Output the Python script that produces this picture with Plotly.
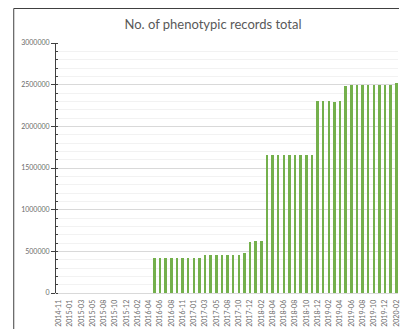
import plotly.graph_objects as go

# Monthly snapshots on the category axis (every other one carries a label)
months = [
    "2014-11", "2014-12", "2015-01", "2015-02", "2015-03", "2015-04", "2015-05", "2015-07",
    "2015-08", "2015-09", "2015-10", "2015-11", "2015-12", "2016-01", "2016-02", "2016-03",
    "2016-04", "2016-05", "2016-06", "2016-07", "2016-08", "2016-10", "2016-11", "2016-12",
    "2017-01", "2017-02", "2017-03", "2017-04", "2017-05", "2017-07", "2017-08", "2017-09",
    "2017-10", "2017-11", "2017-12", "2018-01", "2018-02", "2018-03", "2018-04", "2018-05",
    "2018-06", "2018-07", "2018-08", "2018-09", "2018-10", "2018-11", "2018-12", "2019-01",
    "2019-02", "2019-03", "2019-04", "2019-05", "2019-06", "2019-07", "2019-08", "2019-09",
    "2019-10", "2019-11", "2019-12", "2020-01", "2020-02",
]

# Total phenotypic records per snapshot
records = (
    [0] * 17
    + [424000] + [418000] * 8
    + [462000] * 7
    + [478000]
    + [612000, 625000, 625000]
    + [1651000] * 9
    + [2299000, 2299000, 2299000, 2287000, 2304000]
    + [2479000] + [2491000] * 8 + [2515000]
)

tick_months = months[::2]

TEXT = "#6b6b6b"
FONT = "Lato"

# plot area in pixels: left 56, top 43, width 344, height 250
L, T, W, H = 56, 43, 344, 250


def px_x(x):
    return (x - L) / W


def px_y(y):
    return 1 - (y - T) / H


fig = go.Figure(
    go.Bar(
        x=list(range(len(months))),
        y=records,
        marker=dict(color="#74B04C", line=dict(width=0)),
        width=0.45,
        hovertext=months,
    )
)

fig.update_layout(
    width=400,
    height=329,
    margin=dict(l=L, r=400 - L - W, t=T, b=329 - T - H),
    paper_bgcolor="white",
    plot_bgcolor="white",
    showlegend=False,
    title=dict(
        text="No. of phenotypic records total",
        x=213 / 400,
        xanchor="center",
        y=1 - 24 / 329,
        yanchor="middle",
        font=dict(family=FONT, size=13, color="#595959"),
    ),
    bargap=0,
    shapes=[
        # chart frame: left and top edges
        dict(type="line", xref="paper", yref="paper",
             x0=px_x(13.5), x1=px_x(13.5),
             y0=px_y(330), y1=px_y(8.5),
             line=dict(color="#404040", width=1)),
        dict(type="line", xref="paper", yref="paper",
             x0=px_x(13.5), x1=px_x(401),
             y0=px_y(8.5), y1=px_y(8.5),
             line=dict(color="#404040", width=1)),
    ],
)

fig.update_xaxes(
    type="linear",
    range=[-0.5, 60.3],
    tickmode="array",
    tickvals=list(range(0, len(months), 2)),
    ticktext=tick_months,
    tickangle=-90,
    tickfont=dict(family=FONT, size=7, color=TEXT),
    ticklabeloverflow="allow",
    ticklabelstandoff=3,
    showgrid=False,
    showline=True,
    linecolor="#d9d9d9",
    linewidth=1,
    ticks="",
    zeroline=False,
)

fig.update_yaxes(
    range=[0, 3000000],
    dtick=500000,
    tickformat="d",
    tickfont=dict(family=FONT, size=7, color=TEXT),
    showgrid=True,
    gridcolor="#d9d9d9",
    gridwidth=1,
    showline=True,
    linecolor="#404040",
    linewidth=1,
    ticks="outside",
    ticklen=4,
    tickcolor="#404040",
    zeroline=False,
    minor=dict(
        dtick=100000,
        showgrid=True,
        gridcolor="#f2f2f2",
        ticks="inside",
        ticklen=2,
        tickcolor="#404040",
    ),
)

fig.write_html("out.html")
